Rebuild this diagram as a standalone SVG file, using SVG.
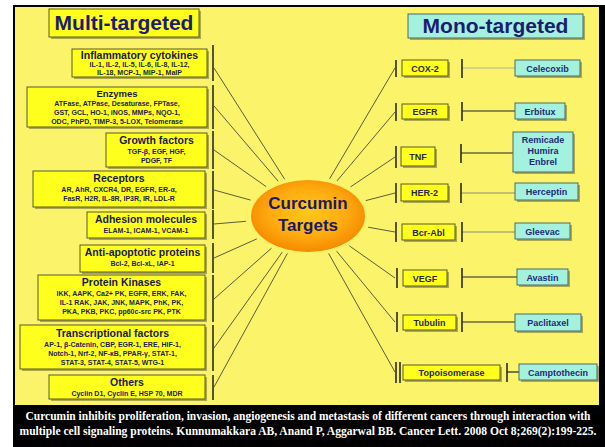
<svg xmlns="http://www.w3.org/2000/svg" width="605" height="447" viewBox="0 0 605 447">
<defs>
<radialGradient id="og" cx="50%" cy="45%" r="55%">
<stop offset="0" stop-color="#ffc81a"/>
<stop offset="0.6" stop-color="#ffab10"/>
<stop offset="1" stop-color="#f58a00"/>
</radialGradient>
<style>
.bg{fill:#fbf46a}
.yb{fill:#ffff1e;stroke:#5a5a2a;stroke-width:1}
.cb{fill:#a4f2de;stroke:#4a6a66;stroke-width:1}
.sh{fill:#6e6a3a;opacity:0.55}
.t{font-family:"Liberation Sans",Arial,sans-serif;font-weight:bold;text-anchor:middle}
.ttl{font-size:10.5px;fill:#1a1a40}
.bd{font-size:7px;fill:#22224a}
.big{font-size:21px;fill:#1c1c70}
.sm{font-size:9px;fill:#2a2a3a}
.cy{font-size:9px;fill:#1c2a78}
.bar{stroke:#2a2a2a;stroke-width:1.6}
.ln{stroke:#333;stroke-width:0.8;fill:none}
.cap{font-family:"Liberation Serif","Times New Roman",serif;font-weight:bold;font-size:11.5px;fill:#fff;text-anchor:middle}
</style>
</defs>
<rect x="0" y="0" width="605" height="447" fill="#fff"/>
<rect x="13" y="5" width="592" height="442" fill="#000"/>
<rect class="bg" x="15" y="7" width="584" height="398"/>

<g id="connectors">
<line class="ln" x1="214" y1="68" x2="284.7" y2="179.3"/>
<line class="ln" x1="214" y1="106" x2="278.2" y2="181.2"/>
<line class="ln" x1="214" y1="150" x2="266.1" y2="186.6"/>
<line class="ln" x1="214" y1="190" x2="250.6" y2="200.1"/>
<line class="ln" x1="214" y1="224" x2="245.9" y2="221.3"/>
<line class="ln" x1="214" y1="258" x2="256.8" y2="238.9"/>
<line class="ln" x1="214" y1="299" x2="271.5" y2="248.2"/>
<line class="ln" x1="214" y1="348" x2="282.3" y2="252.1"/>
<line class="ln" x1="214" y1="387" x2="287.4" y2="253.4"/>
<line class="ln" x1="395" y1="68" x2="329.6" y2="178.8"/>
<line class="ln" x1="395" y1="112" x2="337" y2="180.9"/>
<line class="ln" x1="395" y1="157" x2="350.5" y2="186.9"/>
<line class="ln" x1="395" y1="193" x2="365.7" y2="200.6"/>
<line class="ln" x1="395" y1="232" x2="368.1" y2="227.2"/>
<line class="ln" x1="395" y1="278" x2="349.3" y2="245.8"/>
<line class="ln" x1="395" y1="322" x2="336.6" y2="251.2"/>
<line class="ln" x1="395" y1="372" x2="328.6" y2="253.4"/>
<line x1="462" y1="68" x2="515" y2="68" stroke="#b0b0a0" stroke-width="1"/>
<line x1="462" y1="111" x2="515" y2="111" stroke="#222" stroke-width="1.2"/>
<line x1="461" y1="153" x2="513" y2="153" stroke="#222" stroke-width="1.2"/>
<line x1="461" y1="193" x2="515" y2="193" stroke="#8a8a7a" stroke-width="1"/>
<line x1="462" y1="232" x2="515" y2="232" stroke="#8a8a7a" stroke-width="1"/>
<line x1="462" y1="277" x2="517" y2="277" stroke="#222" stroke-width="1.2"/>
<line x1="462" y1="322" x2="515" y2="322" stroke="#222" stroke-width="1.2"/>
<line x1="507" y1="372" x2="519" y2="372" stroke="#222" stroke-width="1.2"/>
</g>

<g id="multi-title">
<rect class="sh" x="51" y="11" width="150" height="28"/>
<rect class="yb" x="49" y="9" width="150" height="28"/>
<text class="t big" x="124" y="30">Multi-targeted</text>
</g>
<g id="mono-title">
<rect class="sh" x="410" y="16" width="175" height="24"/>
<rect class="cb" x="408" y="14" width="175" height="24"/>
<text class="t big" x="495.5" y="33">Mono-targeted</text>
</g>

<g id="inflammatory">
<rect class="sh" x="74" y="51" width="135" height="28"/>
<rect class="yb" x="72" y="49" width="135" height="28"/>
<text class="t ttl" x="139.5" y="59">Inflammatory cytokines</text>
<text class="t bd" x="139.5" y="67">IL-1, IL-2, IL-5, IL-6, IL-8, IL-12,</text>
<text class="t bd" x="139.5" y="75">IL-18, MCP-1, MIP-1, MaIP</text>
<line class="bar" x1="213" y1="45" x2="213" y2="81"/>
</g>
<g id="enzymes">
<rect class="sh" x="29" y="89" width="180" height="40"/>
<rect class="yb" x="27" y="87" width="180" height="40"/>
<text class="t ttl" x="117" y="97" style="font-size:9.5px">Enzymes</text>
<text class="t bd" x="117" y="106">ATFase, ATPase, Desaturase, FPTase,</text>
<text class="t bd" x="117" y="115">GST, GCL, HO-1, iNOS, MMPs, NQO-1,</text>
<text class="t bd" x="117" y="124">ODC, PhPD, TIMP-3, 5-LOX, Telomerase</text>
<line class="bar" x1="213" y1="85" x2="213" y2="129"/>
</g>
<g id="growth">
<rect class="sh" x="108" y="135" width="101" height="34"/>
<rect class="yb" x="106" y="133" width="101" height="34"/>
<text class="t ttl" x="156.5" y="144">Growth factors</text>
<text class="t bd" x="156.5" y="154">TGF-β, EGF, HGF,</text>
<text class="t bd" x="156.5" y="163">PDGF, TF</text>
<line class="bar" x1="213" y1="131" x2="213" y2="169"/>
</g>
<g id="receptors">
<rect class="sh" x="35" y="173" width="172" height="36"/>
<rect class="yb" x="33" y="171" width="172" height="36"/>
<text class="t ttl" x="119" y="182">Receptors</text>
<text class="t bd" x="119" y="192">AR, AhR, CXCR4, DR, EGFR, ER-α,</text>
<text class="t bd" x="119" y="201">FasR, H2R, IL-8R, IP3R, IR, LDL-R</text>
<line class="bar" x1="213" y1="171" x2="213" y2="209"/>
</g>
<g id="adhesion">
<rect class="sh" x="89" y="214" width="118" height="26"/>
<rect class="yb" x="87" y="212" width="118" height="26"/>
<text class="t ttl" x="146" y="223">Adhesion molecules</text>
<text class="t bd" x="146" y="233">ELAM-1, ICAM-1, VCAM-1</text>
<line class="bar" x1="213" y1="210" x2="213" y2="239"/>
</g>
<g id="antiapoptotic">
<rect class="sh" x="82" y="247" width="125" height="27"/>
<rect class="yb" x="80" y="245" width="125" height="27"/>
<text class="t ttl" x="142.5" y="256">Anti-apoptotic proteins</text>
<text class="t bd" x="142.5" y="266">Bcl-2, Bcl-xL, IAP-1</text>
<line class="bar" x1="213" y1="243" x2="213" y2="273"/>
</g>
<g id="kinases">
<rect class="sh" x="40" y="277" width="167" height="45"/>
<rect class="yb" x="38" y="275" width="167" height="45"/>
<text class="t ttl" x="121.5" y="286">Protein Kinases</text>
<text class="t bd" x="121.5" y="296">IKK, AAPK, Ca2+ PK, EGFR, ERK, FAK,</text>
<text class="t bd" x="121.5" y="305">IL-1 RAK, JAK, JNK, MAPK, PhK, PK,</text>
<text class="t bd" x="121.5" y="314">PKA, PKB, PKC, pp60c-src PK, PTK</text>
<line class="bar" x1="213" y1="275" x2="213" y2="322"/>
</g>
<g id="transcription">
<rect class="sh" x="22" y="327" width="185" height="44"/>
<rect class="yb" x="20" y="325" width="185" height="44"/>
<text class="t ttl" x="112.5" y="337">Transcriptional factors</text>
<text class="t bd" x="112.5" y="347">AP-1, β-Catenin, CBP, EGR-1, ERE, HIF-1,</text>
<text class="t bd" x="112.5" y="356">Notch-1, Nrf-2, NF-κB, PPAR-γ, STAT-1,</text>
<text class="t bd" x="112.5" y="365">STAT-3, STAT-4, STAT-5, WTG-1</text>
<line class="bar" x1="213" y1="325" x2="213" y2="371"/>
</g>
<g id="others">
<rect class="sh" x="51" y="377" width="156" height="24"/>
<rect class="yb" x="49" y="375" width="156" height="24"/>
<text class="t ttl" x="127" y="386">Others</text>
<text class="t bd" x="127" y="395.5">Cyclin D1, Cyclin E, HSP 70, MDR</text>
<line class="bar" x1="213" y1="375" x2="213" y2="400"/>
</g>

<g id="curcumin">
<ellipse cx="308" cy="216" rx="57" ry="36" fill="url(#og)"/>
<text class="t" x="308" y="209" style="font-size:17px;fill:#1a1a60">Curcumin</text>
<text class="t" x="308" y="231" style="font-size:17px;fill:#1a1a60">Targets</text>
</g>

<g id="cox2">
<line class="bar" x1="396" y1="60" x2="396" y2="77"/>
<rect class="sh" x="404" y="62" width="46" height="16"/>
<rect class="yb" x="402" y="60" width="46" height="16"/>
<text class="t sm" x="425" y="71.5">COX-2</text>
<line class="bar" x1="462" y1="59" x2="462" y2="78"/>
</g>
<g id="celecoxib">
<rect class="sh" x="517" y="62" width="65" height="16"/>
<rect class="cb" x="515" y="60" width="65" height="16"/>
<text class="t cy" x="547.5" y="71.5">Celecoxib</text>
</g>
<g id="egfr">
<line class="bar" x1="396" y1="103" x2="396" y2="121"/>
<rect class="sh" x="404" y="106" width="46" height="15"/>
<rect class="yb" x="402" y="104" width="46" height="15"/>
<text class="t sm" x="425" y="115">EGFR</text>
<line class="bar" x1="462" y1="102" x2="462" y2="121"/>
</g>
<g id="erbitux">
<rect class="sh" x="517" y="105" width="50" height="16"/>
<rect class="cb" x="515" y="103" width="50" height="16"/>
<text class="t cy" x="540" y="114.5">Erbitux</text>
</g>
<g id="tnf">
<line class="bar" x1="396" y1="146" x2="396" y2="168"/>
<rect class="sh" x="403" y="149" width="34" height="19"/>
<rect class="yb" x="401" y="147" width="34" height="19"/>
<text class="t sm" x="418" y="160">TNF</text>
<line class="bar" x1="461" y1="144" x2="461" y2="163"/>
</g>
<g id="remicade">
<rect class="sh" x="515" y="134" width="60" height="40"/>
<rect class="cb" x="513" y="132" width="60" height="40"/>
<text class="t cy" x="543" y="143">Remicade</text>
<text class="t cy" x="543" y="154">Humira</text>
<text class="t cy" x="543" y="165">Enbrel</text>
</g>
<g id="her2">
<line class="bar" x1="396" y1="183" x2="396" y2="203"/>
<rect class="sh" x="403" y="186" width="47" height="17"/>
<rect class="yb" x="401" y="184" width="47" height="17"/>
<text class="t sm" x="424.5" y="196">HER-2</text>
<line class="bar" x1="461" y1="183" x2="461" y2="203"/>
</g>
<g id="herceptin">
<rect class="sh" x="517" y="185" width="63" height="17"/>
<rect class="cb" x="515" y="183" width="63" height="17"/>
<text class="t cy" x="546.5" y="195">Herceptin</text>
</g>
<g id="bcrabl">
<line class="bar" x1="396" y1="222" x2="396" y2="242"/>
<rect class="sh" x="404" y="226" width="53" height="16"/>
<rect class="yb" x="402" y="224" width="53" height="16"/>
<text class="t sm" x="428.5" y="235.5">Bcr-Abl</text>
<line class="bar" x1="462" y1="222" x2="462" y2="242"/>
</g>
<g id="gleevac">
<rect class="sh" x="517" y="225" width="55" height="16"/>
<rect class="cb" x="515" y="223" width="55" height="16"/>
<text class="t cy" x="542.5" y="234.5">Gleevac</text>
</g>
<g id="vegf">
<line class="bar" x1="397" y1="268" x2="397" y2="288"/>
<rect class="sh" x="405" y="272" width="44" height="16"/>
<rect class="yb" x="403" y="270" width="44" height="16"/>
<text class="t sm" x="425" y="281.5">VEGF</text>
<line class="bar" x1="462" y1="268" x2="462" y2="288"/>
</g>
<g id="avastin">
<rect class="sh" x="519" y="271" width="51" height="16"/>
<rect class="cb" x="517" y="269" width="51" height="16"/>
<text class="t cy" x="542.5" y="280.5">Avastin</text>
</g>
<g id="tubulin">
<line class="bar" x1="397" y1="312" x2="397" y2="332"/>
<rect class="sh" x="405" y="317" width="53" height="15"/>
<rect class="yb" x="403" y="315" width="53" height="15"/>
<text class="t sm" x="429.5" y="326">Tubulin</text>
<line class="bar" x1="462" y1="312" x2="462" y2="332"/>
</g>
<g id="paclitaxel">
<rect class="sh" x="517" y="316" width="66" height="17"/>
<rect class="cb" x="515" y="314" width="66" height="17"/>
<text class="t cy" x="548" y="326">Paclitaxel</text>
</g>
<g id="topoisomerase">
<line class="bar" x1="396" y1="362" x2="396" y2="383"/>
<line class="bar" x1="400" y1="362" x2="400" y2="383"/>
<rect class="sh" x="405" y="367" width="97" height="15"/>
<rect class="yb" x="403" y="365" width="97" height="15"/>
<text class="t sm" x="451.5" y="376">Topoisomerase</text>
<line class="bar" x1="507" y1="363" x2="507" y2="382"/>
</g>
<g id="camptothecin">
<rect class="sh" x="521" y="366" width="78" height="16"/>
<rect class="cb" x="519" y="364" width="78" height="16"/>
<text class="t cy" x="558" y="375.5">Camptothecin</text>
</g>

<g id="caption">
<text class="cap" x="308" y="420" textLength="565" lengthAdjust="spacingAndGlyphs">Curcumin inhibits proliferation, invasion, angiogenesis and metastasis of different cancers through interaction with</text>
<text class="cap" x="308" y="435" textLength="577" lengthAdjust="spacingAndGlyphs">multiple cell signaling proteins. Kunnumakkara AB, Anand P, Aggarwal BB. Cancer Lett. 2008 Oct 8;269(2):199-225.</text>
</g>
</svg>
